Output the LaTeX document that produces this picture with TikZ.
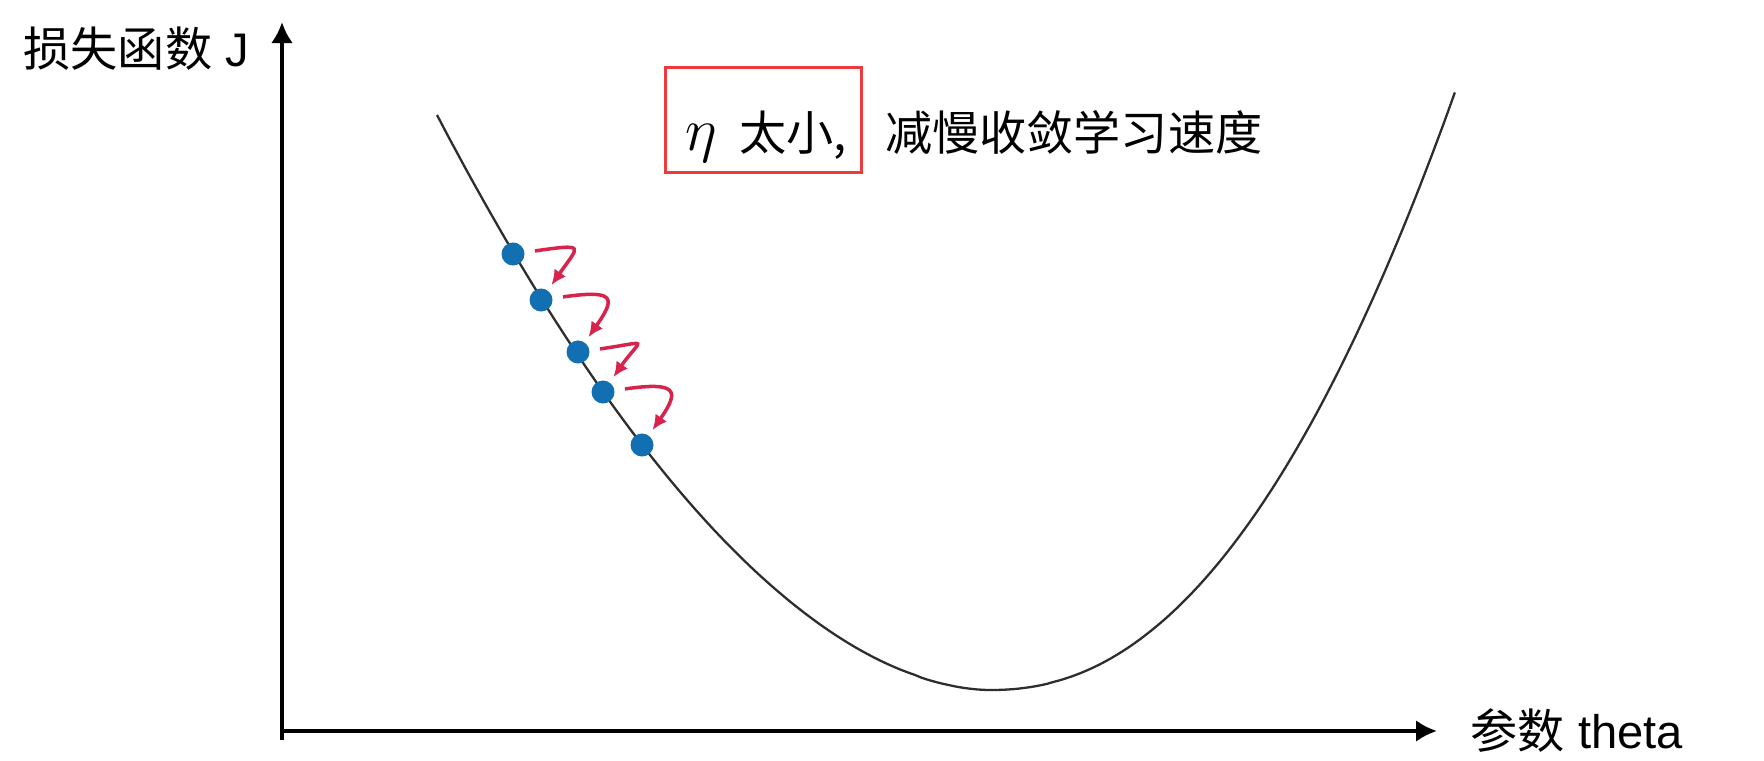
\documentclass[tikz,border=0pt]{standalone}
\usepackage{fontspec}
\setmainfont{Liberation Sans}
\newfontfamily\cjk{Noto Sans CJK SC}
\usepackage{tikz}
\usetikzlibrary{arrows.meta,positioning}
\definecolor{dotblue}{RGB}{18, 112, 178}
\definecolor{hopred}{RGB}{214, 36, 76}
\definecolor{boxred}{RGB}{238, 58, 58}
\definecolor{curvegray}{RGB}{45, 45, 45}

\begin{document}
\begin{tikzpicture}[x=0.01cm, y=0.01cm, >=Latex,
    ball/.style={circle, fill=dotblue, inner sep=0pt, minimum size=0.23cm},
    hop/.style={-{Latex[length=0.15cm, width=0.14cm]}, hopred, line width=1pt,
      shorten <=0.1cm, shorten >=0.06cm, out distance=0.62cm, in distance=0.55cm},
    axis/.style={line width=1.3pt, -{Latex[length=0.21cm, width=0.22cm]}},
    lbl/.style={font=\fontsize{13.4}{16}\selectfont, inner sep=0pt}]
    \useasboundingbox (0,0) rectangle (1764,760);
    % axes
    \coordinate (O) at (282,29);
    \coordinate (ytop) at (282,738);
    \coordinate (xend) at (1437,29);
    \draw[axis] (282,20) -- (ytop);
    \draw[axis] (O) -- (xend);
    \node[lbl, anchor=base west] (ylab) at (23,693) {{\cjk 损失函数} J};
    \node[lbl, anchor=base west] (xlab) at (1470,12) {{\cjk 参数} theta};
    % cost curve
    \draw[curvegray, line width=0.65pt]
      plot[domain=1:0.01, samples=80, variable=\t] ({990-553*\t}, {70+575*\t^1.84})
      -- plot[domain=0.01:1, samples=80, variable=\t] ({990+465*\t}, {70+598*\t^2.18});
    % steps
    \node[ball] (d1) at (513,506) {};
    \node[ball] (d2) at (541,460) {};
    \node[ball] (d3) at (578,408) {};
    \node[ball] (d4) at (603,368) {};
    \node[ball] (d5) at (642,315) {};
    \foreach \a/\b in {d1/d2, d2/d3, d3/d4, d4/d5}
      \draw[hop] (\a) to[out=8, in=55] (\b);
    % title
    \node[draw=boxred, line width=0.85pt, minimum width=1.95cm, minimum height=1.04cm,
      inner sep=0pt, text height=0.6cm, text depth=0pt, font=\fontsize{13.4}{16}\selectfont]
      (eta) at (763.5,640)
      {\hspace{0.05cm}{\fontsize{19}{22}\selectfont$\eta$}\hspace{0.22cm}{\cjk 太小,}};
    \node[right=0.22cm of eta.base east, anchor=base west, inner sep=0pt,
      font=\cjk\fontsize{13.4}{16}\selectfont] (slow) {减慢收敛学习速度};
\end{tikzpicture}
\end{document}
